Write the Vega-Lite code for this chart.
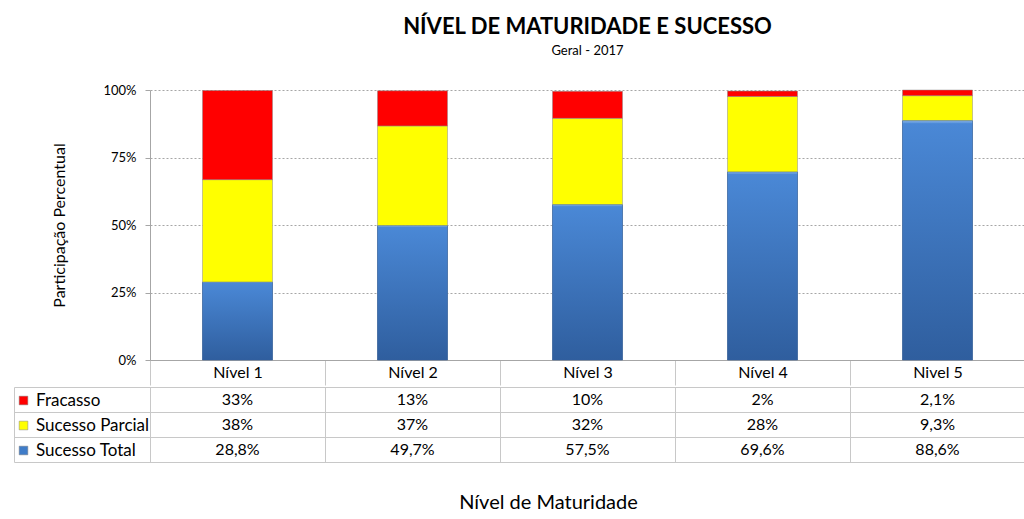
{
  "$schema": "https://vega.github.io/schema/vega-lite/v6.json",
  "padding": {"left": 13, "top": 16, "right": 0, "bottom": 0},
  "background": "white",
  "config": {
    "font": "Lato",
    "view": {"stroke": null},
    "locale": {"number": {"decimal": ",", "thousands": ".", "grouping": [3], "currency": ["R$", ""]}}
  },
  "datasets": {
    "d": [
      {"nivel": "Nível 1", "serie": "Sucesso Total", "valor": 0.288},
      {"nivel": "Nível 1", "serie": "Sucesso Parcial", "valor": 0.38},
      {"nivel": "Nível 1", "serie": "Fracasso", "valor": 0.33},
      {"nivel": "Nível 2", "serie": "Sucesso Total", "valor": 0.497},
      {"nivel": "Nível 2", "serie": "Sucesso Parcial", "valor": 0.37},
      {"nivel": "Nível 2", "serie": "Fracasso", "valor": 0.13},
      {"nivel": "Nível 3", "serie": "Sucesso Total", "valor": 0.575},
      {"nivel": "Nível 3", "serie": "Sucesso Parcial", "valor": 0.32},
      {"nivel": "Nível 3", "serie": "Fracasso", "valor": 0.10},
      {"nivel": "Nível 4", "serie": "Sucesso Total", "valor": 0.696},
      {"nivel": "Nível 4", "serie": "Sucesso Parcial", "valor": 0.28},
      {"nivel": "Nível 4", "serie": "Fracasso", "valor": 0.02},
      {"nivel": "Nivel 5", "serie": "Sucesso Total", "valor": 0.886},
      {"nivel": "Nivel 5", "serie": "Sucesso Parcial", "valor": 0.093},
      {"nivel": "Nivel 5", "serie": "Fracasso", "valor": 0.021}
    ]
  },
  "spacing": 0,
  "vconcat": [
    {
      "width": 875,
      "height": 270,
      "title": {
        "text": "NÍVEL DE MATURIDADE E SUCESSO",
        "subtitle": "Geral - 2017",
        "fontSize": 22,
        "fontWeight": "bold",
        "color": "black",
        "subtitleFontSize": 13,
        "subtitleColor": "black",
        "subtitlePadding": 6,
        "anchor": "middle",
        "offset": 25
      },
      "data": {"name": "d"},
      "encoding": {
        "x": {
          "field": "nivel", "type": "nominal", "sort": null,
          "scale": {"paddingInner": 0, "paddingOuter": 0},
          "axis": {
            "title": null, "tickBand": "extent", "tickSize": 25, "tickColor": "#c8c8c8",
            "domainColor": "#a6a6a6", "labelAngle": 0, "labelFontSize": 16, "labelColor": "black",
            "labelBaseline": "middle", "labelPadding": -13
          }
        },
        "y": {
          "field": "valor", "type": "quantitative", "stack": "zero",
          "scale": {"domain": [0, 1]},
          "axis": {
            "format": ".0%", "values": [0, 0.25, 0.5, 0.75, 1],
            "title": "Participação Percentual", "titleFontSize": 16, "titleFontWeight": "normal",
            "titleColor": "black", "titlePadding": 35,
            "labelFontSize": 13, "labelColor": "black", "labelPadding": 9,
            "tickSize": 5, "tickColor": "#a6a6a6", "domainColor": "#a6a6a6",
            "gridDash": [2, 2], "gridColor": "#a6a6a6"
          }
        }
      },
      "layer": [
        {
          "mark": {"type": "bar", "width": {"band": 0.4}, "stroke": "#8c8c8c", "strokeWidth": 0.5},
          "encoding": {
            "color": {
              "field": "serie", "type": "nominal",
              "scale": {"domain": ["Fracasso", "Sucesso Parcial", "Sucesso Total"], "range": ["#ff0000", "#ffff00", "#3f7cc8"]},
              "legend": {
                "orient": "none", "legendX": -135, "legendY": 302, "title": null,
                "symbolType": "square", "symbolSize": 75, "symbolStrokeWidth": 0.5, "symbolStrokeColor": "#808080",
                "labelFontSize": 17, "labelColor": "black", "rowPadding": 7, "labelOffset": 4
              }
            },
            "order": {"field": "serie", "sort": "descending"}
          }
        },
        {
          "transform": [{"filter": "datum.serie == 'Sucesso Total'"}],
          "mark": {
            "type": "bar", "width": {"band": 0.4}, "stroke": "#35619c", "strokeWidth": 0.5,
            "fill": {
              "gradient": "linear", "x1": 0, "y1": 0, "x2": 0, "y2": 1,
              "stops": [
                {"offset": 0, "color": "#8fbbec"},
                {"offset": 0.012, "color": "#4a88d6"},
                {"offset": 1, "color": "#2f5e9e"}
              ]
            }
          }
        }
      ]
    },
    {
      "width": 875,
      "height": 75,
      "data": {"name": "d"},
      "mark": {"type": "text", "fontSize": 16, "color": "black"},
      "encoding": {
        "x": {
          "field": "nivel", "type": "nominal", "sort": null,
          "axis": {
            "orient": "bottom", "title": "Nível de Maturidade", "titleFontSize": 20,
            "titleFontWeight": "normal", "titleColor": "black", "titlePadding": 30, "titleX": 398,
            "labels": false, "ticks": false, "domain": false, "grid": true, "tickBand": "extent",
            "gridColor": "#c8c8c8"
          }
        },
        "y": {
          "field": "serie", "type": "nominal", "sort": ["Fracasso", "Sucesso Parcial", "Sucesso Total"],
          "scale": {"paddingInner": 0, "paddingOuter": 0},
          "axis": {
            "title": null, "labels": false, "tickBand": "extent", "offset": 136, "tickSize": -1011,
            "tickColor": "#c8c8c8", "domainColor": "#c8c8c8", "grid": false
          }
        },
        "text": {"field": "valor", "type": "quantitative", "format": ".1~%"}
      }
    }
  ]
}
